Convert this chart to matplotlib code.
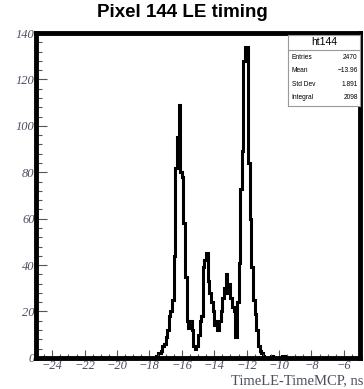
import numpy as np
import matplotlib.pyplot as plt
from matplotlib.ticker import MultipleLocator

# LE timing histogram, 0.1 ns bins, counts from the first filled bin onward
bin_width = 0.1
first_edge = -17.6
counts = [1, 2, 2, 3, 5, 6, 9, 12, 18, 20,
          25, 44, 82, 95, 109, 80, 78, 58, 35, 16,
          13, 16, 12, 5, 4, 5, 10, 16, 18, 39,
          42, 45, 33, 28, 24, 20, 14, 16, 12, 16,
          20, 26, 30, 36, 28, 32, 26, 22, 20, 9,
          24, 41, 73, 89, 128, 134, 134, 84, 60, 39,
          25, 19, 12, 5, 3, 2, 1, 0, 0, 0,
          0, 1, 0, 0, 0, 0, 0, 0, 1, 1]

x_min, x_max = -25, -5
hist_name = "ht144"
stats_labels = ["Entries", "Mean", "Std Dev", "Integral"]
stats_values = ["2470", "\u221213.96", "1.891", "2098"]

n_bins = int(round((x_max - x_min) / bin_width))
edges = np.linspace(x_min, x_max, n_bins + 1)
full = np.zeros(n_bins)
start = int(round((first_edge - x_min) / bin_width))
full[start:start + len(counts)] = counts

fig = plt.figure(figsize=(3.64, 3.89), dpi=100)
ax = fig.add_axes([0.099, 0.080, 0.890, 0.835])

ax.stairs(full, edges, color='black', linewidth=2.2, baseline=0)
ax.set_xlim(x_min, x_max)
ax.set_ylim(0, 140)

for s in ax.spines.values():
    s.set_linewidth(3.5)

ax.xaxis.set_major_locator(MultipleLocator(2))
ax.xaxis.set_minor_locator(MultipleLocator(0.5))
ax.yaxis.set_major_locator(MultipleLocator(20))
ax.yaxis.set_minor_locator(MultipleLocator(4))
ax.tick_params(which='both', direction='in', color='#555555', width=0.8,
               top=False, right=False)
ax.tick_params(axis='y', which='major', length=8)
ax.tick_params(axis='y', which='minor', length=4)
ax.tick_params(axis='x', which='major', length=6)
ax.tick_params(axis='x', which='minor', length=3)

tick_font = dict(family='Liberation Serif', style='italic', size=9, color='#4a4e60')
ax.set_xticks(np.arange(-24, -5, 2))
ax.set_xticklabels([f"\u2212{abs(v)}" for v in range(-24, -5, 2)], **tick_font)
ax.set_yticks(np.arange(0, 141, 20))
ax.set_yticklabels([str(v) for v in range(0, 141, 20)], **tick_font)
ax.tick_params(axis='x', pad=1.5)
ax.tick_params(axis='y', pad=1)

fig.text(0.997, 0.004, "TimeLE-TimeMCP, ns", ha='right', va='bottom',
         family='Liberation Serif', size=10.5, color='#4a4e60')
fig.text(0.5, 0.968, "Pixel 144 LE timing", ha='center', va='center',
         family='Liberation Sans', weight='bold', size=13.5)

# stats box
box = fig.add_axes([0.791, 0.7275, 0.198, 0.1825])
box.set_xlim(0, 1)
box.set_ylim(0, 1)
box.set_xticks([])
box.set_yticks([])
for s in box.spines.values():
    s.set_linewidth(0.8)
    s.set_color('#999999')
box.axhline(0.79, color='#999999', linewidth=0.8)
box.text(0.5, 0.895, hist_name, ha='center', va='center',
         family='Liberation Sans', size=7.5)
row_y = [0.68, 0.50, 0.30, 0.12]
for lbl, val, yy in zip(stats_labels, stats_values, row_y):
    box.text(0.05, yy, lbl, ha='left', va='center', family='Liberation Sans', size=4.8)
    box.text(0.97, yy, val, ha='right', va='center', family='Liberation Sans', size=4.8)

fig.savefig("out.png", dpi=100)
